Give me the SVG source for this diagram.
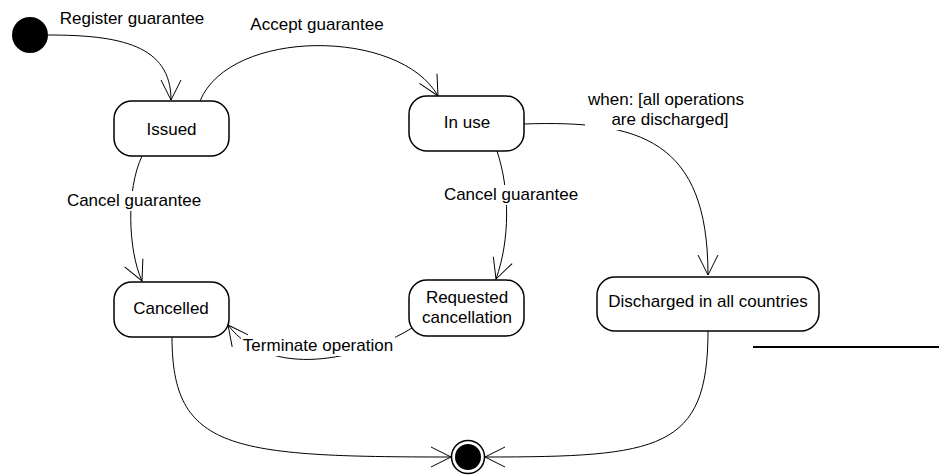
<svg xmlns="http://www.w3.org/2000/svg" width="939" height="475" viewBox="0 0 939 475">
<style>
  .state { fill: #ffffff; stroke: #000000; stroke-width: 1.5; }
  .conn { fill: none; stroke: #000000; stroke-width: 1; marker-end: url(#arrow); }
  text { font-family: "Liberation Sans", Arial, sans-serif; font-size: 17px; fill: #000000; }
  .lbl { text-anchor: middle; }
  .bg { fill: #ffffff; stroke: none; }
</style>
<defs>
  <marker id="arrow" markerUnits="userSpaceOnUse" markerWidth="24" markerHeight="24" viewBox="-22 -12 24 24" refX="0" refY="0" orient="auto">
    <path d="M-20,-10 L0,0 L-20,10" fill="none" stroke="#000000" stroke-width="1"/>
  </marker>
</defs>
<rect width="939" height="475" fill="#ffffff"/>

<g id="connectors">
  <path class="conn" d="M48,35 C120,35 171,45 171,100"/>
  <path class="conn" d="M200,101 C230,28 400,28 438,96"/>
  <path class="conn" d="M142,156 C126,190 128,250 142,281"/>
  <path class="conn" d="M497,151 C510,190 510,240 496,279"/>
  <path class="conn" d="M412,328 C360,360 270,380 228,325"/>
  <path class="conn" d="M524,124 C640,120 708,140 708,275"/>
  <path class="conn" d="M172,337 C172,450 230,457 451,457"/>
  <path class="conn" d="M708,331 C708,450 660,457 485,457"/>
  <text class="lbl" x="132" y="24">Register guarantee</text>
  <text class="lbl" x="317" y="30">Accept guarantee</text>
  <rect class="bg" x="66" y="191" width="136" height="20"/>
  <text class="lbl" x="134" y="206">Cancel guarantee</text>
  <rect class="bg" x="444" y="185" width="135" height="20"/>
  <text class="lbl" x="511" y="200">Cancel guarantee</text>
  <rect class="bg" x="241" y="336" width="154" height="20"/>
  <text class="lbl" x="318" y="351">Terminate operation</text>
  <rect class="bg" x="585" y="91" width="162" height="39"/>
  <text class="lbl" x="666" y="105">when: [all operations</text>
  <text class="lbl" x="670" y="125">are discharged]</text>
</g>

<g id="initial">
  <circle cx="30" cy="35" r="18" fill="#000000"/>
</g>
<g id="issued">
  <rect class="state" x="114" y="101" width="115" height="55" rx="18"/>
  <text class="lbl" x="171.5" y="135">Issued</text>
</g>
<g id="in-use">
  <rect class="state" x="409" y="96" width="115" height="55" rx="18"/>
  <text class="lbl" x="467" y="128">In use</text>
</g>
<g id="cancelled">
  <rect class="state" x="114" y="282" width="115" height="55" rx="18"/>
  <text class="lbl" x="171" y="314">Cancelled</text>
</g>
<g id="requested-cancellation">
  <rect class="state" x="409" y="280" width="115" height="56" rx="18"/>
  <text class="lbl" x="467" y="303">Requested</text>
  <text class="lbl" x="467" y="323">cancellation</text>
</g>
<g id="discharged">
  <rect class="state" x="597" y="277" width="222" height="54" rx="18"/>
  <text class="lbl" x="708" y="307">Discharged in all countries</text>
</g>
<g id="final">
  <circle cx="468" cy="457" r="16.5" fill="#ffffff" stroke="#000000" stroke-width="1.5"/>
  <circle cx="468" cy="457" r="13" fill="#000000"/>
</g>
<line x1="753" y1="347" x2="939" y2="347" stroke="#000000" stroke-width="2"/>
</svg>
